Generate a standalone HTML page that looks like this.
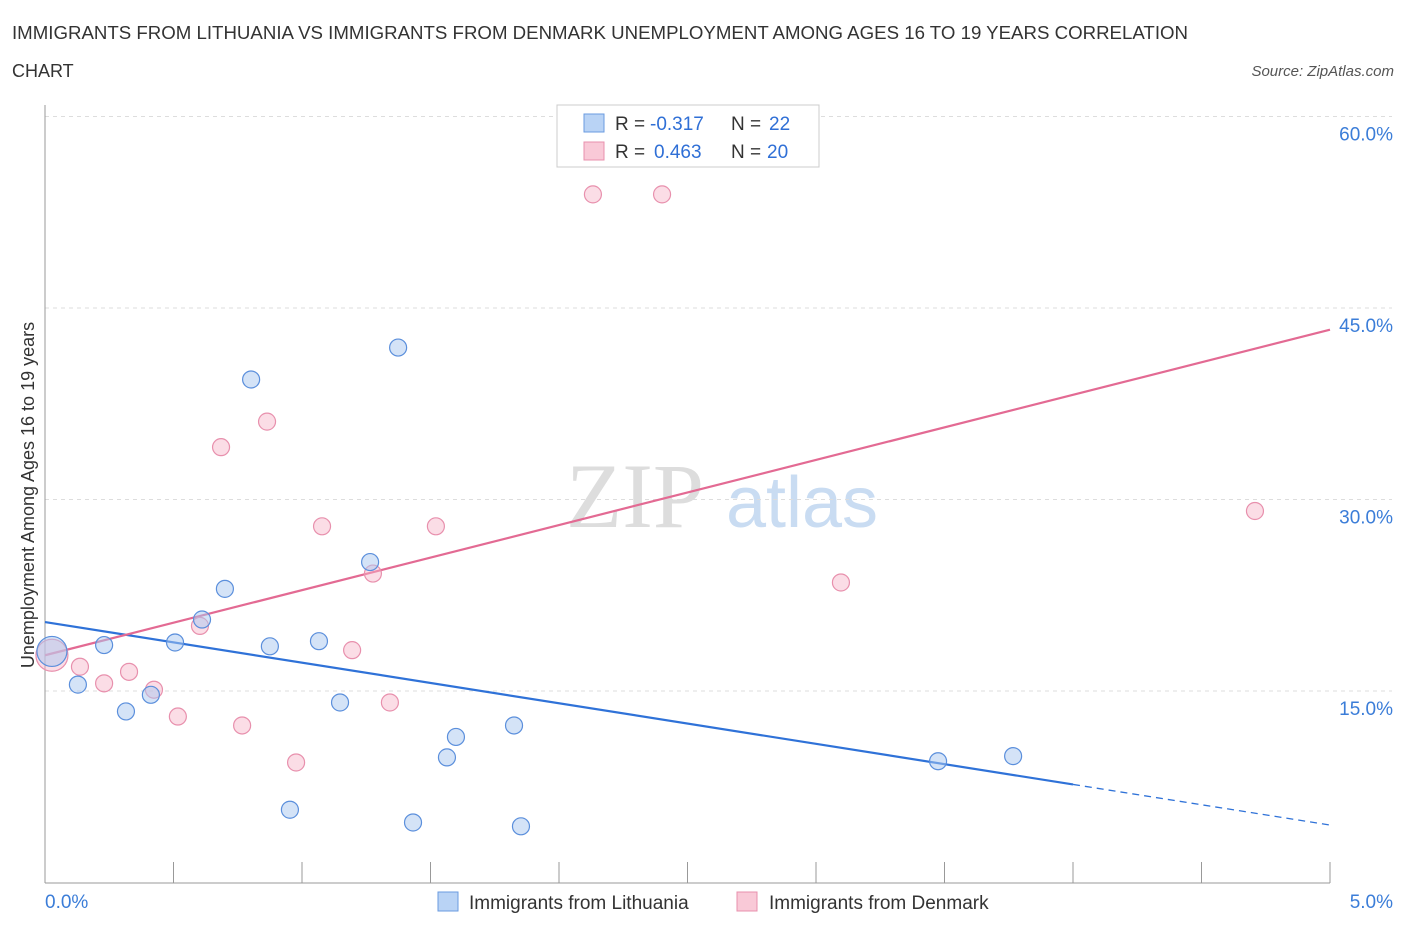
<!DOCTYPE html>
<html><head><meta charset="utf-8">
<style>
body{margin:0;background:#fff;font-family:"Liberation Sans",sans-serif;}
svg text{font-family:"Liberation Sans",sans-serif;}
</style></head>
<body>
<svg width="1406" height="930" viewBox="0 0 1406 930">
<text x="12" y="39" font-size="18" fill="#333" textLength="1176" lengthAdjust="spacingAndGlyphs">IMMIGRANTS FROM LITHUANIA VS IMMIGRANTS FROM DENMARK UNEMPLOYMENT AMONG AGES 16 TO 19 YEARS CORRELATION</text>
<text x="12" y="77" font-size="18" fill="#333">CHART</text>
<text x="1394" y="76" font-size="15" fill="#555" text-anchor="end" font-style="italic">Source: ZipAtlas.com</text>
<g>
<text x="635" y="527" font-size="92" fill="#ddd" text-anchor="middle" font-family="Liberation Serif,serif" style="font-family:'Liberation Serif',serif">ZIP</text>
<text x="802" y="527" font-size="72" fill="#c9dcf2" text-anchor="middle">atlas</text>
</g>
<g id="grid"></g>
<g id="axes"></g>
<g id="trends"></g>
<g id="points"></g>
<text x="34" y="495" font-size="18" fill="#333" text-anchor="middle" transform="rotate(-90 34 495)">Unemployment Among Ages 16 to 19 years</text>
<g>
<rect x="557" y="105" width="262" height="62" fill="#fff" stroke="#ccc"/>
<rect x="584" y="114" width="20" height="18" fill="#b9d3f5" stroke="#6a9be0"/>
<text x="615" y="130" font-size="19" fill="#333">R = </text><text x="650" y="130" font-size="19" fill="#2f6fd6">-0.317</text>
<text x="731" y="130" font-size="19" fill="#333">N = </text><text x="769" y="130" font-size="19" fill="#2f6fd6">22</text>
<rect x="584" y="142" width="20" height="18" fill="#f9c9d7" stroke="#e890ad"/>
<text x="615" y="158" font-size="19" fill="#333">R = </text><text x="654" y="158" font-size="19" fill="#2f6fd6">0.463</text>
<text x="731" y="158" font-size="19" fill="#333">N = </text><text x="767" y="158" font-size="19" fill="#2f6fd6">20</text>
</g>
<g>
<rect x="438" y="892" width="20" height="19" fill="#b9d3f5" stroke="#6a9be0"/>
<text x="469" y="909" font-size="19" fill="#333">Immigrants from Lithuania</text>
<rect x="737" y="892" width="20" height="19" fill="#f9c9d7" stroke="#e890ad"/>
<text x="769" y="909" font-size="19" fill="#333">Immigrants from Denmark</text>
</g>
</svg>
<script>
const blueX=[0.027,0.128,0.230,0.315,0.412,0.506,0.611,0.700,0.802,0.875,0.953,1.066,1.148,1.265,1.374,1.432,1.564,1.599,1.825,1.852,3.475,3.767];
const blueY=[18.1,15.5,18.6,13.4,14.7,18.8,20.6,23.0,39.4,18.5,5.7,18.9,14.1,25.1,41.9,4.7,9.8,11.4,12.3,4.4,9.5,9.9];
const pinkX=[0.027,0.136,0.230,0.327,0.424,0.517,0.603,0.685,0.767,0.864,0.977,1.078,1.195,1.276,1.342,1.521,2.132,2.401,3.097,4.708];
const pinkY=[17.8,16.9,15.6,16.5,15.1,13.0,20.1,34.1,12.3,36.1,9.4,27.9,18.2,24.2,14.1,27.9,53.9,53.9,23.5,29.1];
const blueTrend=[20.4,4.5];
const blueSolidEnd=4.0;
const pinkTrend=[17.8,43.3];
const yTicks=[15,30,45,60];
const yTickLabels=["15.0%","30.0%","45.0%","60.0%"];
const xTicks=[0,0.5,1,1.5,2,2.5,3,3.5,4,4.5,5];

const NS="http://www.w3.org/2000/svg";
const L=45,R=1330,B=882.5,T=116.5;
const sx=v=>L+(R-L)*v/5;
const sy=v=>B-(B-T)*v/60;
function mk(tag,attrs,parent){const e=document.createElementNS(NS,tag);for(const k in attrs)e.setAttribute(k,attrs[k]);document.getElementById(parent).appendChild(e);return e;}

yTicks.forEach((t,i)=>{
  const g=mk('line',{x1:L,x2:1392,y1:sy(t),y2:sy(t),stroke:'#ddd','stroke-dasharray':'4,4'},'grid');
  
  
  const tx=mk('text',{x:1393,y:sy(t)+24,'font-size':19,fill:'#3b7dd8','text-anchor':'end'},'grid');
  tx.textContent=yTickLabels[i];
  
  
});
const ax=mk('line',{x1:L,x2:L,y1:105,y2:883,stroke:'#999'},'axes');


const bx=mk('line',{x1:L,x2:R,y1:883,y2:883,stroke:'#999'},'axes');


xTicks.forEach(t=>{
  const tk=mk('line',{x1:sx(t),x2:sx(t),y1:862,y2:883,stroke:'#999'},'axes');
  
  
});
const x0=mk('text',{x:45,y:908,'font-size':19,fill:'#3b7dd8'},'axes');x0.textContent='0.0%';


const x1=mk('text',{x:1393,y:908,'font-size':19,fill:'#3b7dd8','text-anchor':'end'},'axes');x1.textContent='5.0%';



function point(x,y,r,fill,stroke,name){
  const c=mk('circle',{cx:sx(x),cy:sy(y),r:r,fill:fill,stroke:stroke,'stroke-width':1.2},'points');
  
  
}
pinkX.forEach((x,i)=>point(x,pinkY[i],i===0?16:8.5,'rgba(247,180,200,0.45)','#e890ad','point-denmark'));
blueX.forEach((x,i)=>point(x,blueY[i],i===0?15:8.5,'rgba(170,200,240,0.5)','#5b8fdc','point-lithuania'));

const bt=v=>blueTrend[0]+(blueTrend[1]-blueTrend[0])*v/5;
const l1=mk('line',{x1:sx(0),y1:sy(bt(0)),x2:sx(blueSolidEnd),y2:sy(bt(blueSolidEnd)),stroke:'#2f72d8','stroke-width':2.2},'trends');


const l2=mk('line',{x1:sx(blueSolidEnd),y1:sy(bt(blueSolidEnd)),x2:sx(5),y2:sy(bt(5)),stroke:'#2f72d8','stroke-width':1.3,'stroke-dasharray':'7,5'},'trends');


const l3=mk('line',{x1:sx(0),y1:sy(pinkTrend[0]),x2:sx(5),y2:sy(pinkTrend[1]),stroke:'#e36a93','stroke-width':2.2},'trends');


</script>
</body></html>
